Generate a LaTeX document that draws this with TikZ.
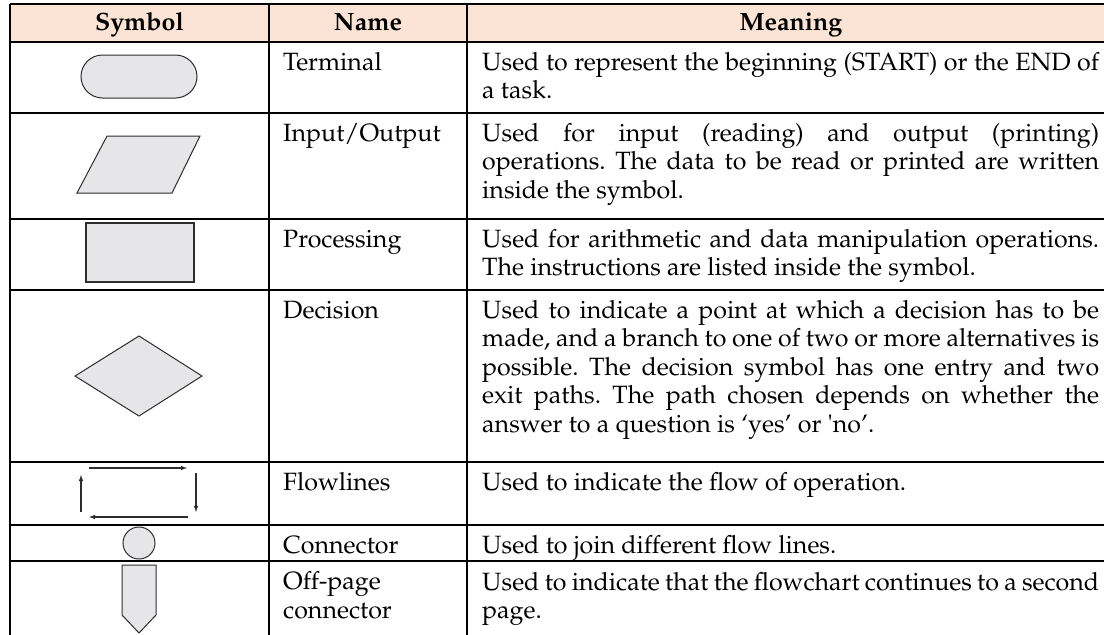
\documentclass[tikz,border=0pt]{standalone}
\usepackage[T1]{fontenc}
\renewcommand{\rmdefault}{ppl}
\usepackage{tikz}
\definecolor{headfill}{RGB}{251,228,213}
\definecolor{symfill}{RGB}{230,230,232}
\definecolor{symline}{RGB}{45,45,45}
\hyphenpenalty=10000
\exhyphenpenalty=10000
\frenchspacing
\newcommand{\cellfont}{\fontsize{25}{28.5}\selectfont}

\begin{document}
\begin{tikzpicture}[x=1pt,y=-1pt,
    rule/.style={line width=2.2pt},
    symb/.style={fill=symfill,draw=symline,line width=1pt},
    flow/.style={->,>=latex,line width=1.1pt,draw=symline},
    headcell/.style={anchor=base,inner sep=0pt,font=\cellfont\bfseries},
    namecell/.style={anchor=base west,inner sep=0pt,align=left,font=\cellfont},
    meancell/.style={anchor=north west,inner sep=0pt,text width=617pt,align=justify,font=\cellfont}]
        \useasboundingbox (0,0) rectangle (1104,635);
        % Header
        \fill[headfill](10,4)rectangle(1104,42);
        \node[headcell](hsym) at (139.5,30){Symbol};
        \node[headcell](hname) at (368,30){Name};
        \node[headcell](hmean) at (791,30){Meaning};
        % Symbols
        \draw[symb,rounded corners=21.5pt](81,55)rectangle(197,98);
        \draw[symb](107,136)--(200,136)--(172,193)--(77,193)--cycle;
        \draw[symb,line width=1.5pt](86,223)rectangle(194,282);
        \draw[symb](75,376)--(139,336)--(202,376)--(139,416)--cycle;
        \draw[flow](89,468)--(187,468);
        \draw[flow](196,473)--(196,512);
        \draw[flow](188,517)--(89,517);
        \draw[flow](81,512)--(81,475);
        \draw[symb](139,543)circle[radius=16];
        \draw[symb](122,565)--(156,565)--(156,615)--(139,633)--(122,615)--cycle;
        % Names
        \node[namecell](nterm) at (283,70){Terminal};
        \node[namecell](nio) at (283,141){Input/Output};
        \node[namecell](nproc) at (283,247){Processing};
        \node[namecell](ndec) at (283,318){Decision};
        \node[namecell](nflow) at (283,490){Flowlines};
        \node[namecell](ncon) at (283,553){Connector};
        \node[namecell](noff) at (283,618){Off-page\\connector};
        % Meanings
        \node[meancell](mterm) at (482,50.05){\strut Used to represent the beginning (START) or the END of\linebreak a task.};
        \node[meancell](mio) at (482,121.05){\strut Used for input (reading) and output (printing)\linebreak operations. The data to be read or printed are written\linebreak inside the symbol.};
        \node[meancell](mproc) at (482,227.05){\strut Used for arithmetic and data manipulation operations.\linebreak The instructions are listed inside the symbol.};
        \node[meancell](mdec) at (482,298.05){\strut Used to indicate a point at which a decision has to be\linebreak made, and a branch to one of two or more alternatives is\linebreak possible. The decision symbol has one entry and two\linebreak exit paths. The path chosen depends on whether the\linebreak answer to a question is `yes' or \textquotesingle no'.};
        \node[meancell](mflow) at (482,470.05){\strut Used to indicate the flow of operation.};
        \node[meancell](mcon) at (482,533.05){\strut Used to join different flow lines.};
        \node[meancell](moff) at (482,570.05){\strut Used to indicate that the flowchart continues to a second\linebreak page.};
        % Rules
        \foreach \y in {4,42,113,219,290,462,525,561}
            \draw[rule](10,\y)--(1104,\y);
        \foreach \x in {10,269,467}
            \draw[rule](\x,4)--(\x,635);
\end{tikzpicture}
\end{document}
